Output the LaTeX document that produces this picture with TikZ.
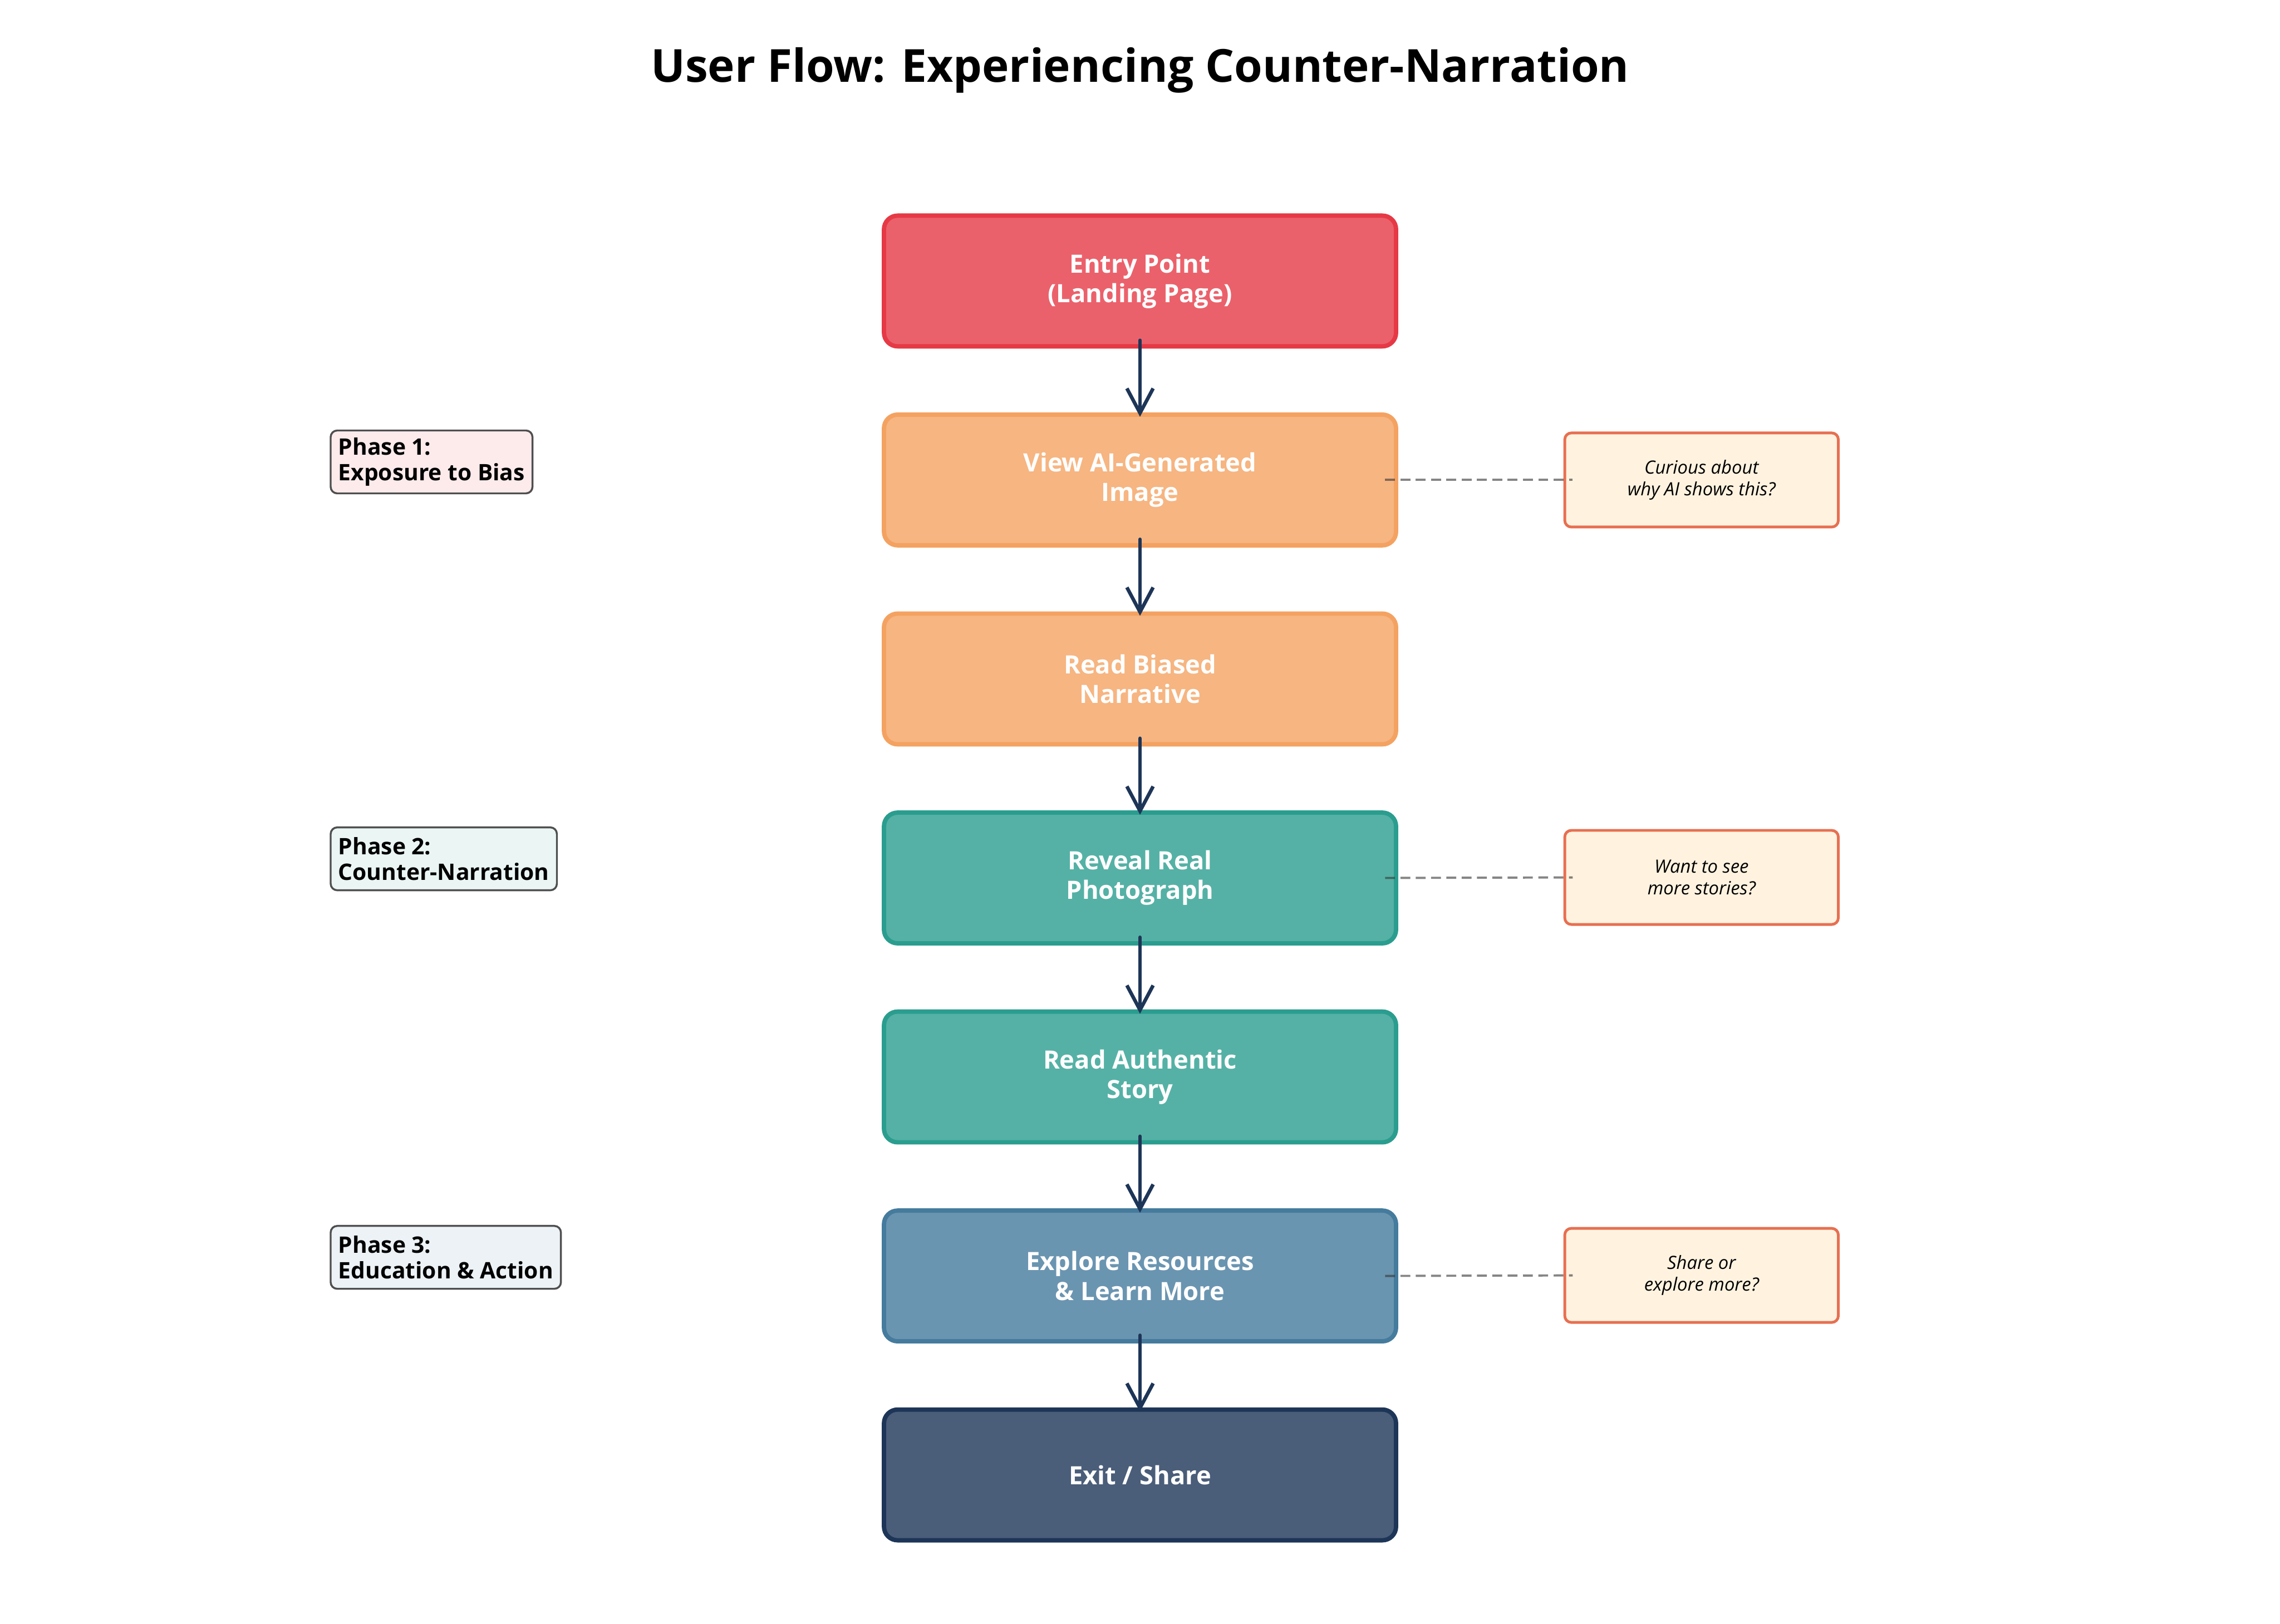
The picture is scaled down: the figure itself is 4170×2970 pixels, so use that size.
\documentclass[tikz,border=0pt]{standalone}
\usepackage{fontspec}
\setmainfont{Open Sans}
\usetikzlibrary{arrows.meta}
\definecolor{eRed}{HTML}{E63946}
\definecolor{fRed}{HTML}{EB616B}
\definecolor{eOrg}{HTML}{F4A261}
\definecolor{fOrg}{HTML}{F6B581}
\definecolor{eTeal}{HTML}{2A9D8F}
\definecolor{fTeal}{HTML}{55B1A5}
\definecolor{eBlue}{HTML}{457B9D}
\definecolor{fBlue}{HTML}{6A95B1}
\definecolor{eDark}{HTML}{1D3557}
\definecolor{fDark}{HTML}{4A5D79}
\definecolor{arrowc}{HTML}{1D3557}
\definecolor{pRed}{HTML}{FDEBEC}
\definecolor{pTeal}{HTML}{EAF5F4}
\definecolor{pBlue}{HTML}{ECF2F5}
\definecolor{pEdge}{HTML}{4F4F4F}
\definecolor{nFill}{HTML}{FFF3E0}
\definecolor{nEdge}{HTML}{E76F51}
\definecolor{dashc}{HTML}{333333}
\tikzset{
  mainbox/.style={draw, rounded corners=0.25cm, line width=0.08cm,
    minimum width=9.36cm, minimum height=2.39cm, align=center, text=white,
    font=\fontsize{13.1}{15.4}\selectfont\bfseries, inner sep=0pt},
  phasebox/.style={draw=pEdge, rounded corners=0.12cm, line width=0.035cm,
    anchor=west, align=left, minimum height=1.15cm, inner xsep=0.14cm, inner ysep=0.05cm,
    font=\fontsize{11.8}{13.4}\selectfont\bfseries, text=black},
  notebox/.style={draw=nEdge, fill=nFill, rounded corners=0.12cm, line width=0.05cm,
    minimum width=5.0cm, minimum height=1.72cm, align=center, inner sep=0pt,
    font=\fontsize{9.5}{11.2}\selectfont\itshape, text=black},
  flow/.style={draw=arrowc, line width=0.065cm, line cap=round,
    -{Straight Barb[length=0.45cm,width=0.48cm,line width=0.065cm]}},
  link/.style={draw=dashc, draw opacity=0.6, line width=0.04cm, dash pattern=on 0.18cm off 0.1cm}
}
\begin{document}
\begin{tikzpicture}[x=0.01cm,y=-0.01cm]
\useasboundingbox (0,0) rectangle (4170,2970);
\node[font=\fontsize{23.7}{28}\selectfont\bfseries, anchor=base] (title) at (2085,150) {User Flow: Experiencing Counter-Narration};

\node[mainbox, draw=eRed, fill=fRed] (b1) at (2085,514) {Entry Point\\(Landing Page)};
\node[mainbox, draw=eOrg, fill=fOrg] (b2) at (2085,878) {View AI-Generated\\Image};
\node[mainbox, draw=eOrg, fill=fOrg] (b3) at (2085,1242) {Read Biased\\Narrative};
\node[mainbox, draw=eTeal, fill=fTeal] (b4) at (2085,1606) {Reveal Real\\Photograph};
\node[mainbox, draw=eTeal, fill=fTeal] (b5) at (2085,1970) {Read Authentic\\Story};
\node[mainbox, draw=eBlue, fill=fBlue] (b6) at (2085,2334) {Explore Resources\\\& Learn More};
\node[mainbox, draw=eDark, fill=fDark] (b7) at (2085,2698) {Exit / Share};

\foreach \a/\b in {b1/b2,b2/b3,b3/b4,b4/b5,b5/b6,b6/b7}
  \draw[flow] ([yshift=0.15cm]\a.south) -- ([yshift=-0.08cm]\b.north);

\node[phasebox, fill=pRed] (p1) at (603,845) {Phase 1:\\Exposure to Bias};
\node[phasebox, fill=pTeal] (p2) at (603,1571) {Phase 2:\\Counter-Narration};
\node[phasebox, fill=pBlue] (p3) at (603,2300) {Phase 3:\\Education \& Action};

\node[notebox] (n1) at (3112,878) {Curious about\\why AI shows this?};
\node[notebox] (n2) at (3112,1605) {Want to see\\more stories?};
\node[notebox] (n3) at (3112,2333) {Share or\\explore more?};

\draw[link] ([xshift=-0.24cm]b2.east) -- ([xshift=0.17cm]n1.west);
\draw[link] ([xshift=-0.24cm]b4.east) -- ([xshift=0.17cm]n2.west);
\draw[link] ([xshift=-0.24cm]b6.east) -- ([xshift=0.17cm]n3.west);
\end{tikzpicture}
\end{document}
